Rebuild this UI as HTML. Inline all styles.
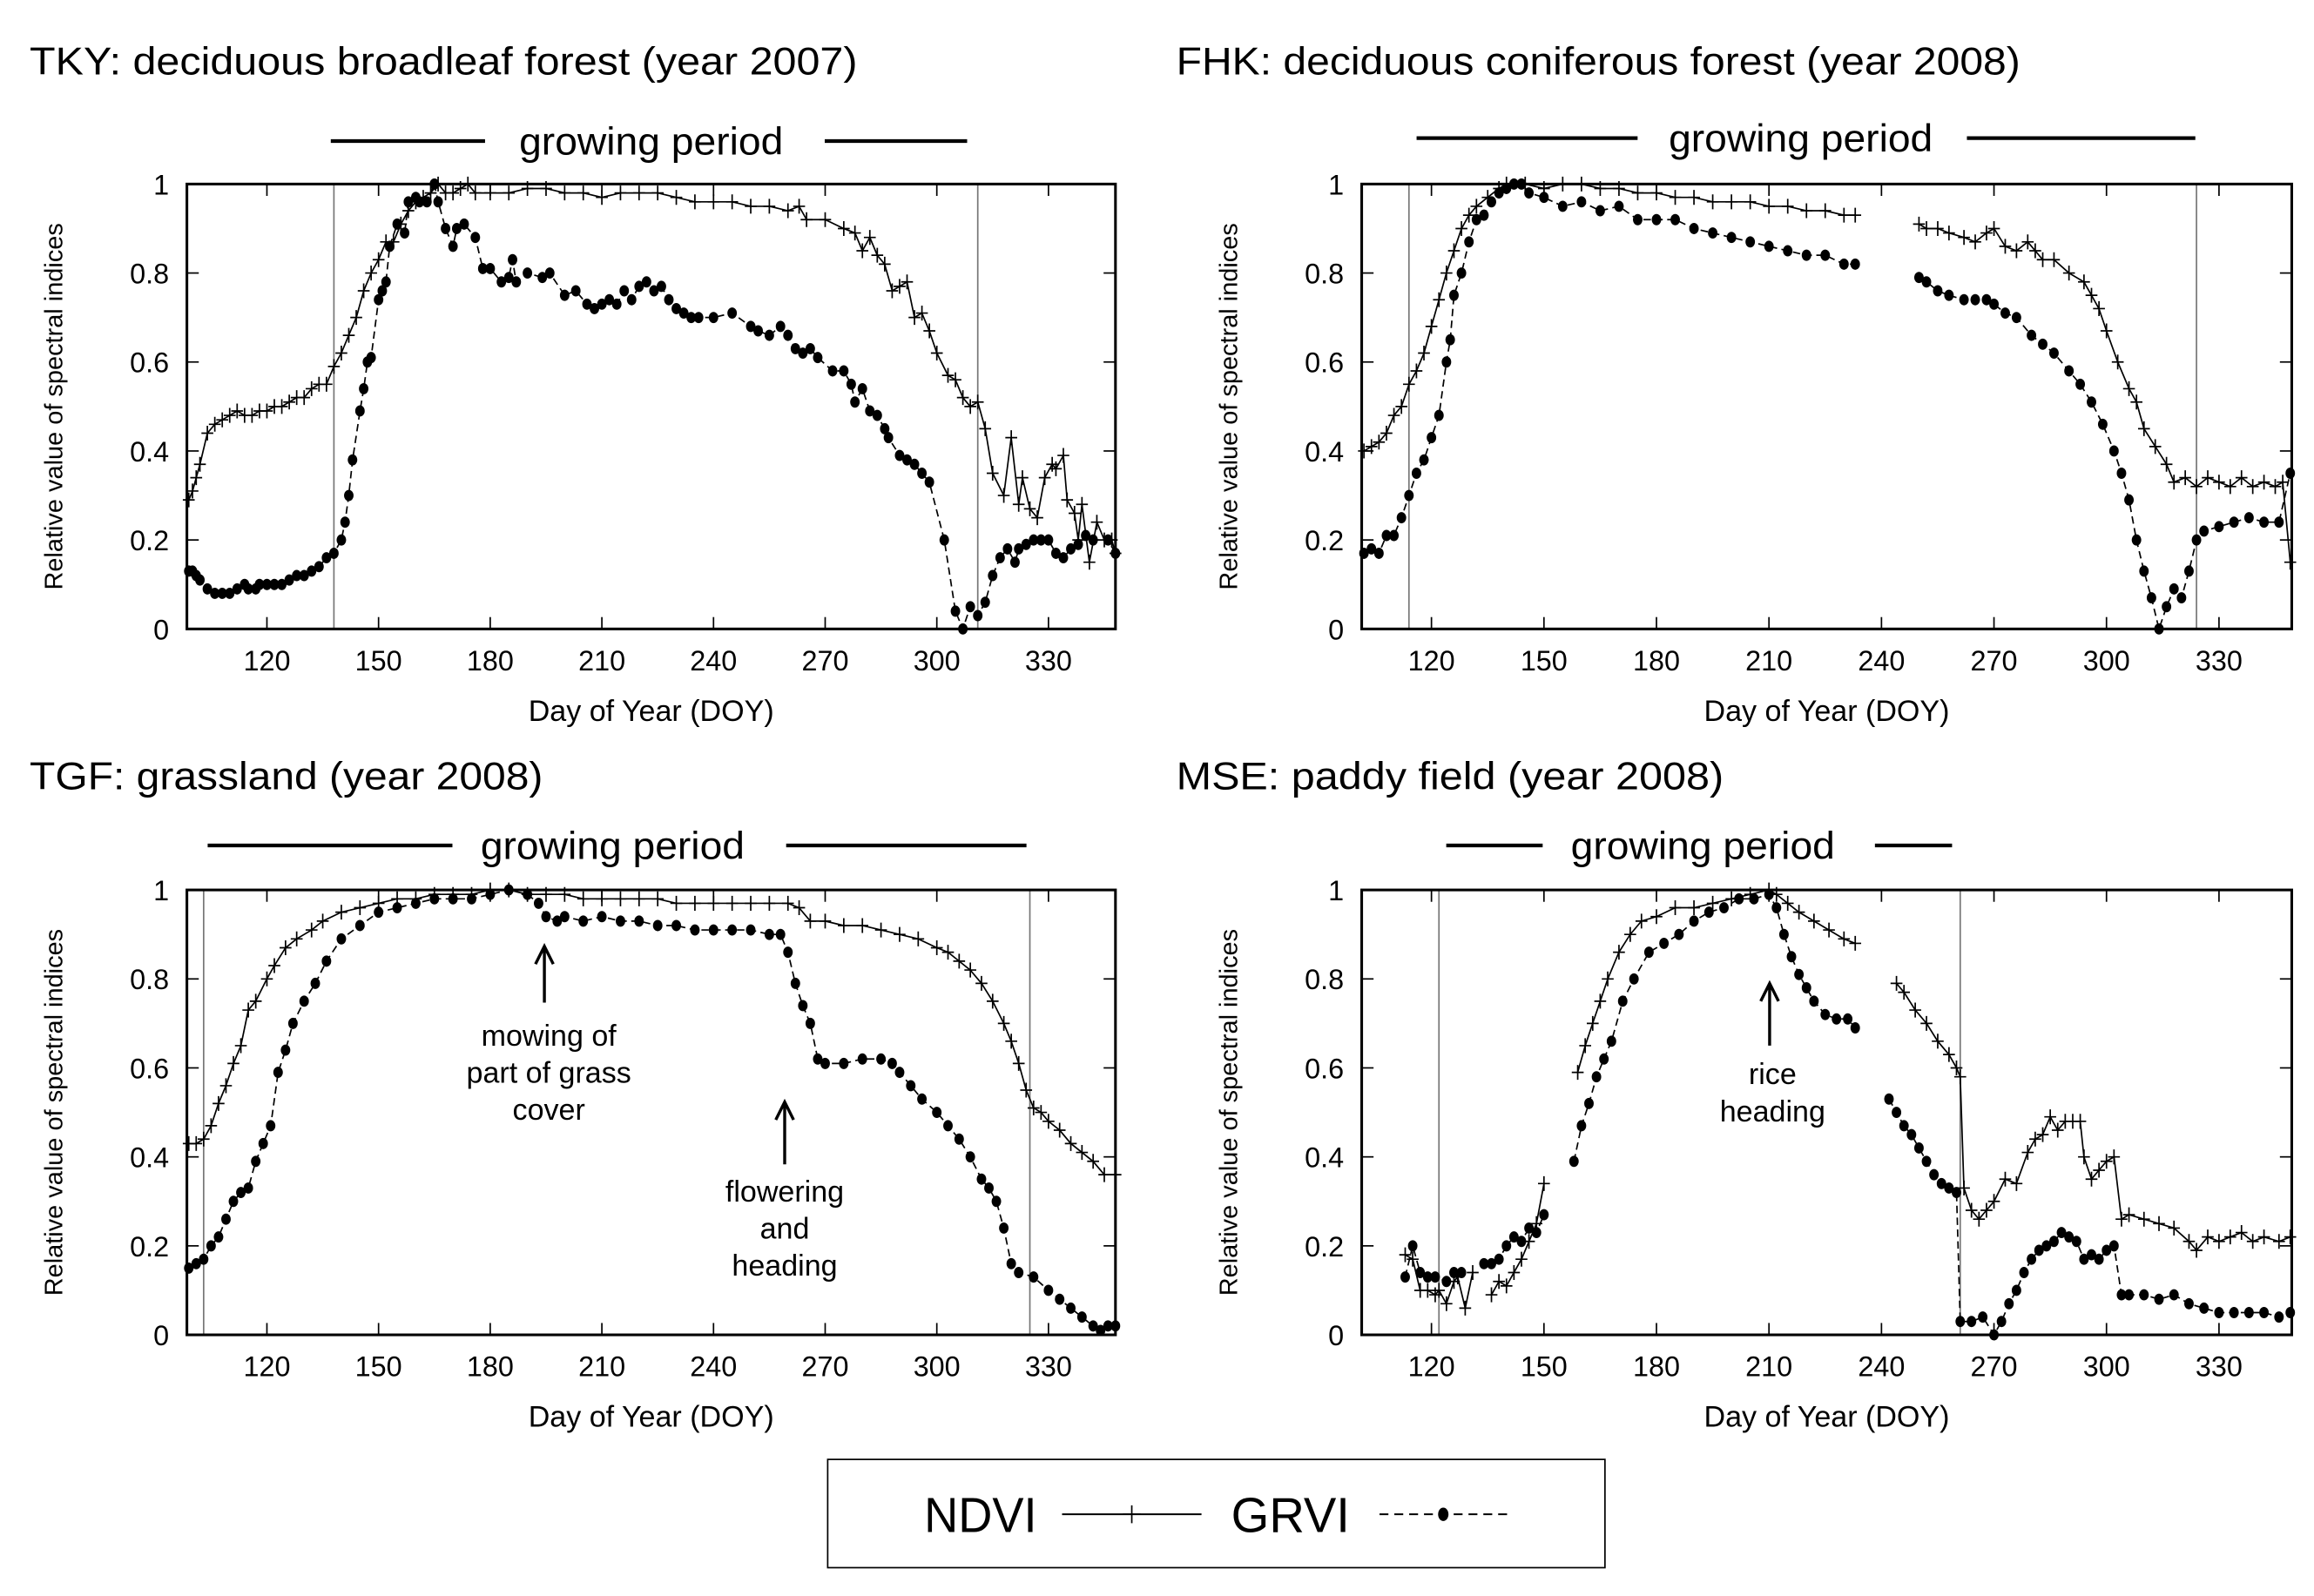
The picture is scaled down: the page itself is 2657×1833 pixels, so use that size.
<!DOCTYPE html>
<html><head><meta charset="utf-8">
<style>
html,body{margin:0;padding:0;background:#fff;}
svg{display:block;font-family:"Liberation Sans",sans-serif;}
</style></head>
<body>
<svg id="fig" width="2657" height="1833" viewBox="0 0 1560 1076" xmlns="http://www.w3.org/2000/svg">
<rect x="0" y="0" width="1560" height="1076" fill="#fff"/>
<g id="root"></g>
<g>
  <rect x="558" y="984" width="524" height="73" fill="#fff" stroke="#000" stroke-width="1"/>
  <text x="623" y="1033" font-size="33" textLength="76" lengthAdjust="spacingAndGlyphs">NDVI</text>
  <line x1="716" y1="1021" x2="810" y2="1021" stroke="#000" stroke-width="1.2"/>
  <path d="M763 1015V1027M757 1021H769" stroke="#000" stroke-width="1"/>
  <text x="830" y="1033" font-size="33" textLength="80" lengthAdjust="spacingAndGlyphs">GRVI</text>
  <line x1="930" y1="1021" x2="1020" y2="1021" stroke="#000" stroke-width="1.2" stroke-dasharray="6,4"/>
  <ellipse cx="973" cy="1021" rx="3.5" ry="4.5" fill="#000"/>
</g>
</svg>
<script>
// ---------- data ----------
const tkyNdviDays=[99,100,101,102,104,106,108,110,112,114,116,118,120,122,124,126,128,130,132,134,136,138,140,142,144,146,148,150,152,154,156,158,160,162,164,166,168,170,172,174,176,180,185,190,195,200,205,210,215,220,225,230,235,240,245,250,255,260,263,265,270,275,278,280,282,284,286,288,290,292,294,296,298,300,303,305,307,309,311,313,315,318,320,322,323,325,327,329,331,332,334,335,337,338,339,341,343,345,347,348];
const tkyNdviVals=[.29,.31,.34,.37,.44,.46,.47,.48,.49,.48,.48,.49,.49,.50,.50,.51,.52,.52,.54,.55,.55,.59,.62,.66,.70,.76,.80,.83,.87,.87,.91,.94,.96,.97,.98,1.0,.98,.98,.99,1.0,.98,.98,.98,.99,.99,.98,.98,.97,.98,.98,.98,.97,.96,.96,.96,.95,.95,.94,.95,.92,.92,.90,.89,.85,.88,.84,.82,.76,.77,.78,.70,.71,.67,.62,.57,.56,.52,.50,.51,.45,.35,.30,.43,.28,.34,.27,.25,.34,.37,.36,.39,.29,.26,.20,.28,.15,.24,.20,.20,.17];
const tkyGrviDays=[99,100,101,102,104,106,108,110,112,114,115,117,118,120,122,124,126,128,130,132,134,136,138,140,141,142,143,145,146,147,148,150,151,152,153,155,157,158,160,161,163,165,166,168,170,171,173,176,178,180,183,185,186,187,190,194,196,200,203,206,208,210,212,214,216,218,220,222,224,226,228,230,232,234,236,240,245,250,252,255,258,260,262,264,266,268,272,275,277,278,280,282,284,286,287,290,292,294,296,298,302,305,307,309,311,313,315,317,319,321,322,324,326,328,330,332,334,336,338,340,342,346,348];
const tkyGrviVals=[.13,.13,.12,.11,.09,.08,.08,.08,.09,.10,.09,.09,.10,.10,.10,.10,.11,.12,.12,.13,.14,.16,.17,.20,.24,.30,.38,.49,.54,.60,.61,.74,.76,.78,.86,.91,.89,.96,.97,.96,.96,1.0,.96,.90,.86,.90,.91,.88,.81,.81,.78,.79,.83,.78,.80,.79,.80,.75,.76,.73,.72,.73,.74,.73,.76,.74,.77,.78,.76,.77,.74,.72,.71,.70,.70,.70,.71,.68,.67,.66,.68,.66,.63,.62,.63,.61,.58,.58,.55,.51,.54,.49,.48,.45,.43,.39,.38,.37,.35,.33,.20,.04,.00,.05,.03,.06,.12,.16,.18,.15,.18,.19,.20,.20,.20,.17,.16,.18,.19,.21,.20,.20,.17];

const fhkNdviDays=[102,104,106,108,110,112,114,116,118,120,122,124,126,128,130,132,135,138,140,145,150,155,160,165,170,175,180,185,190,195,200,205,210,215,220,225,230,233,241,250,252,255,258,262,265,268,270,273,276,279,281,283,286,290,294,296,298,300,303,306,308,310,313,316,318,321,324,327,330,333,336,339,342,345,347,349];
const fhkNdviVals=[.40,.41,.42,.44,.48,.50,.55,.58,.62,.68,.74,.80,.85,.90,.93,.95,.97,.99,1.0,1.0,.99,1.0,1.0,.99,.99,.98,.98,.97,.97,.96,.96,.96,.95,.95,.94,.94,.93,.93,null,.91,.90,.90,.89,.88,.87,.89,.90,.86,.85,.87,.85,.83,.83,.80,.78,.75,.72,.67,.60,.54,.51,.45,.41,.37,.33,.34,.32,.34,.33,.32,.34,.32,.33,.32,.33,.15];
const fhkGrviDays=[102,104,106,108,110,112,114,116,118,120,122,124,125,126,128,130,132,134,136,138,140,142,144,146,150,155,160,165,170,175,180,185,190,195,200,205,210,215,220,225,230,233,241,250,252,255,258,262,265,268,270,273,276,280,283,286,290,293,296,299,302,304,306,308,310,312,314,316,318,320,322,324,326,330,334,338,342,346,349];
const fhkGrviVals=[.17,.18,.17,.21,.21,.25,.30,.35,.38,.43,.48,.60,.65,.75,.80,.87,.92,.93,.96,.98,.99,1.0,1.0,.98,.97,.95,.96,.94,.95,.92,.92,.92,.90,.89,.88,.87,.86,.85,.84,.84,.82,.82,null,.79,.78,.76,.75,.74,.74,.74,.73,.71,.70,.66,.64,.62,.58,.55,.51,.46,.40,.35,.29,.20,.13,.07,.00,.05,.09,.07,.13,.20,.22,.23,.24,.25,.24,.24,.35];

const tgfNdviDays=[99,101,103,105,107,109,111,113,115,117,120,122,125,128,132,135,140,145,150,155,160,165,170,175,180,185,190,195,200,205,210,215,220,225,230,235,240,245,250,255,260,263,266,270,275,280,285,290,295,300,303,306,309,312,315,318,320,322,324,326,328,330,333,336,339,342,345,348];
const tgfNdviVals=[.43,.43,.44,.47,.52,.56,.61,.65,.73,.75,.80,.83,.87,.89,.91,.93,.95,.96,.97,.98,.98,.99,.99,.99,1.0,1.0,.99,.99,.99,.98,.98,.98,.98,.98,.97,.97,.97,.97,.97,.97,.97,.96,.93,.93,.92,.92,.91,.90,.89,.87,.86,.84,.82,.79,.75,.70,.66,.61,.55,.51,.50,.48,.46,.43,.41,.39,.36,.36];
const tgfGrviDays=[99,101,103,105,107,109,111,113,115,117,119,121,123,125,127,130,133,136,140,145,150,155,160,165,170,175,180,185,190,193,195,198,200,205,210,215,220,225,230,235,240,245,250,255,258,260,262,264,266,268,270,275,280,285,288,290,293,296,300,303,306,309,312,314,316,318,320,322,326,330,333,336,339,342,344,346,348];
const tgfGrviVals=[.15,.16,.17,.20,.22,.26,.30,.32,.33,.39,.43,.47,.59,.64,.70,.75,.79,.84,.89,.92,.95,.96,.97,.98,.98,.98,.99,1.0,.99,.97,.94,.93,.94,.93,.94,.93,.93,.92,.92,.91,.91,.91,.91,.90,.90,.86,.79,.74,.70,.62,.61,.61,.62,.62,.61,.59,.56,.53,.50,.47,.44,.40,.35,.33,.30,.24,.16,.14,.13,.10,.08,.06,.04,.02,.01,.02,.02];

const mseNdviDays=[113,115,117,119,121,122,124,126,127,129,131,133,136,138,140,142,144,146,148,150,155,159,161,163,165,167,170,173,176,180,185,190,195,200,205,210,212,215,218,222,226,230,233,238,244,246,249,252,255,258,260,261,262,264,266,268,270,273,276,279,281,283,285,287,289,291,293,294,296,298,300,302,304,306,310,314,318,322,324,327,330,333,336,339,342,346,349];
const mseNdviVals=[.18,.17,.10,.10,.09,.10,.07,.12,.13,.06,.14,null,.09,.12,.11,.14,.17,.21,.25,.34,null,.59,.65,.70,.75,.80,.86,.90,.93,.94,.96,.96,.97,.98,.99,1.0,.99,.97,.95,.93,.91,.89,.88,null,.79,.77,.73,.70,.66,.63,.60,.58,.33,.28,.26,.28,.30,.35,.34,.41,.44,.45,.49,.46,.48,.48,.48,.40,.35,.37,.39,.40,.26,.27,.26,.25,.24,.21,.19,.22,.21,.22,.23,.21,.22,.21,.22];
const mseGrviDays=[113,115,117,119,121,124,126,128,131,134,136,138,140,142,144,146,148,150,154,158,160,162,164,166,168,171,174,178,182,186,190,194,198,202,206,210,212,214,216,218,220,222,225,228,231,233,238,242,244,246,248,250,252,254,256,258,260,261,264,267,270,272,274,276,278,280,282,284,286,288,290,292,294,296,298,300,302,304,306,310,314,318,322,326,330,334,338,342,346,349];
const mseGrviVals=[.13,.20,.14,.13,.13,.12,.14,.14,null,.16,.16,.17,.20,.22,.21,.24,.23,.27,null,.39,.47,.52,.58,.62,.66,.75,.80,.86,.88,.90,.93,.95,.96,.98,.98,.99,.96,.90,.85,.81,.78,.75,.72,.71,.71,.69,null,.53,.50,.47,.45,.42,.39,.36,.34,.33,.32,.03,.03,.04,.00,.03,.07,.10,.14,.17,.19,.20,.21,.23,.22,.21,.17,.18,.17,.19,.20,.09,.09,.09,.08,.09,.07,.06,.05,.05,.05,.05,.04,.05];

const xTickLabels=[120,150,180,210,240,270,300,330];
const yTickLabels=[0,0.2,0.4,0.6,0.8,1];

// ---------- panels ----------
const panels=[
 {id:'tky',title:'TKY: deciduous broadleaf forest (year 2007)',tx:20,ty:50,tw:558,x0:126,x1:752,y0:124,y1:424,d0:98.5,d1:348,vlines:[138,311],gp:[[223,327],[556,652]],gpx:439,gpy:95,nd:[tkyNdviDays,tkyNdviVals],gr:[tkyGrviDays,tkyGrviVals]},
 {id:'fhk',title:'FHK: deciduous coniferous forest (year 2008)',tx:793,ty:50,tw:569,x0:918,x1:1545,y0:124,y1:424,d0:101.4,d1:349.4,vlines:[114,324],gp:[[955,1104],[1326,1480]],gpx:1214,gpy:93,nd:[fhkNdviDays,fhkNdviVals],gr:[fhkGrviDays,fhkGrviVals]},
 {id:'tgf',title:'TGF: grassland (year 2008)',tx:20,ty:532,tw:346,x0:126,x1:752,y0:600,y1:900,d0:98.5,d1:348,vlines:[103,325],gp:[[140,305],[530,692]],gpx:413,gpy:570,nd:[tgfNdviDays,tgfNdviVals],gr:[tgfGrviDays,tgfGrviVals]},
 {id:'mse',title:'MSE: paddy field (year 2008)',tx:793,ty:532,tw:369,x0:918,x1:1545,y0:600,y1:900,d0:101.4,d1:349.4,vlines:[122,261],gp:[[975,1040],[1264,1316]],gpx:1148,gpy:570,nd:[mseNdviDays,mseNdviVals],gr:[mseGrviDays,mseGrviVals]}
];
const NS='http://www.w3.org/2000/svg';
const root=document.getElementById('root');
function mk(tag,attrs,parent){const e=document.createElementNS(NS,tag);for(const k in attrs)e.setAttribute(k,attrs[k]);(parent||root).appendChild(e);return e;}

panels.forEach(p=>{
 const g=mk('g',{});
 
 
 const X=d=>p.x0+(d-p.d0)/(p.d1-p.d0)*(p.x1-p.x0);
 const Y=v=>p.y1-v*(p.y1-p.y0);
 const t=mk('text',{x:p.tx,y:p.ty,'font-size':26,textLength:p.tw,lengthAdjust:'spacingAndGlyphs'},g);
 t.textContent=p.title;
 
 
 p.gp.forEach(s=>{const l=mk('line',{x1:s[0],x2:s[1],y1:p.gpy,y2:p.gpy,stroke:'#000','stroke-width':2.5},g);
  
  });
 const gt=mk('text',{x:p.gpx,y:p.gpy+9,'font-size':26,'text-anchor':'middle',textLength:178,lengthAdjust:'spacingAndGlyphs'},g);
 gt.textContent='growing period';
 
 
 // ticks
 yTickLabels.forEach(v=>{
  const y=Y(v);
  mk('line',{x1:p.x0,x2:p.x0+8,y1:y,y2:y,stroke:'#000','stroke-width':1},g);
  mk('line',{x1:p.x1-8,x2:p.x1,y1:y,y2:y,stroke:'#000','stroke-width':1},g);
  const tl=mk('text',{x:p.x0-12,y:y+7,'font-size':19,'text-anchor':'end'},g);
  tl.textContent=String(v);
  
  
 });
 xTickLabels.forEach(d=>{
  const x=X(d);
  mk('line',{x1:x,x2:x,y1:p.y1,y2:p.y1-8,stroke:'#000','stroke-width':1},g);
  mk('line',{x1:x,x2:x,y1:p.y0,y2:p.y0+8,stroke:'#000','stroke-width':1},g);
  const tl=mk('text',{x:x,y:p.y1+28,'font-size':19,'text-anchor':'middle'},g);
  tl.textContent=String(d);
  
  
 });
 const xt=mk('text',{x:(p.x0+p.x1)/2,y:p.y1+62,'font-size':20,'text-anchor':'middle'},g);
 xt.textContent='Day of Year (DOY)';
 
 
 const cy=(p.y0+p.y1)/2, cx=p.x0-84;
 const yt=mk('text',{x:cx,y:cy,'font-size':17,'text-anchor':'middle',transform:`rotate(-90 ${cx} ${cy})`},g);
 yt.textContent='Relative value of spectral indices';
 
 
 p.vlines.forEach(d=>{const l=mk('line',{x1:X(d),x2:X(d),y1:p.y0,y2:p.y1,stroke:'#777','stroke-width':1},g);
  
  });
 // series
 function series(days,vals,dashed,name){
  let d='';let pen=false;
  days.forEach((dd,i)=>{const v=vals[i];if(v===null){pen=false;return;}
   d+=(pen?'L':'M')+X(dd).toFixed(1)+' '+Y(v).toFixed(1);pen=true;});
  const path=mk('path',{d:d,fill:'none',stroke:'#000','stroke-width':1,'stroke-dasharray':dashed?'5,3':'none'},g);
  
  
  days.forEach((dd,i)=>{const v=vals[i];if(v===null)return;
   const x=X(dd),y=Y(v);
   let m;
   if(dashed){m=mk('ellipse',{cx:x,cy:y,rx:3.2,ry:3.8,fill:'#000'},g);}
   else{m=mk('path',{d:`M${x-4} ${y}H${x+4}M${x} ${y-5}V${y+5}`,stroke:'#000','stroke-width':1},g);}
   
   
  });
 }
 series(p.nd[0],p.nd[1],false,p.id+'-ndvi');
 series(p.gr[0],p.gr[1],true,p.id+'-grvi');
 const fr=mk('rect',{x:p.x0,y:p.y0,width:p.x1-p.x0,height:p.y1-p.y0,fill:'none',stroke:'#000','stroke-width':1.8},g);
 
 
});

// annotations
function arrow(x,yTop,yBot,name){
 const a=mk('path',{d:`M${x} ${yBot}V${yTop}M${x-6} ${yTop+12}L${x} ${yTop}L${x+6} ${yTop+12}`,fill:'none',stroke:'#000','stroke-width':2});
 
 
}
function note(lines,cx,y0,name){
 lines.forEach((s,i)=>{const t=mk('text',{x:cx,y:y0+i*25,'font-size':20,'text-anchor':'middle'});
  t.textContent=s;
  
  });
}
arrow(367,638,676,'mowing-arrow');
note(['mowing of','part of grass','cover'],370,705,'mowing-annotation');
arrow(529,743,785,'flowering-arrow');
note(['flowering','and','heading'],529,810,'flowering-annotation');
arrow(1193,663,705,'rice-heading-arrow');
note(['rice','heading'],1195,731,'rice-heading-annotation');
</script>
</body></html>
